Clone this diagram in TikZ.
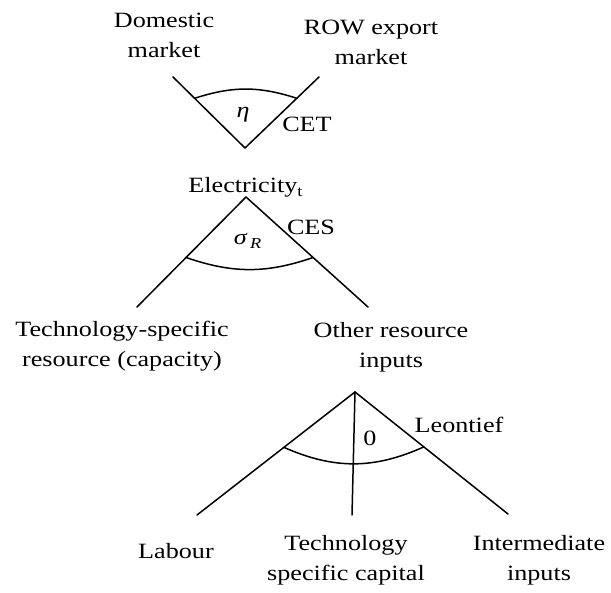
\documentclass[tikz,border=0pt]{standalone}
\usepackage{fontspec}
\setmainfont[FakeStretch=1.2]{Liberation Serif}
\usetikzlibrary{calc}
\begin{document}
\begin{tikzpicture}[x=0.5pt,y=-0.5pt,line cap=round,line join=round,
	font=\fontsize{10.9}{15}\selectfont,
	lab/.style={align=center,inner sep=0pt,anchor=base},
	branch/.style={line width=0.75pt}]
	\useasboundingbox (0,0) rectangle (611,593);
	\path
	(245,148) coordinate (elec)
	(173,77) coordinate (dom)
	(319,77) coordinate (row)
	(246,197) coordinate (res)
	(137,307) coordinate (tres)
	(368,307) coordinate (ores)
	(355,392) coordinate (oin)
	(197,515) coordinate (lab)
	(352,515) coordinate (kap)
	(508,514) coordinate (int);
	% CET nest
	\draw[branch] (dom)--(elec)--(row);
	\draw[branch] ($(elec)!0.7!(dom)$) to[bend left=18] ($(elec)!0.7!(row)$);
	% CES nest
	\draw[branch] (tres)--(res)--(ores);
	\draw[branch] ($(res)!0.55!(tres)$) to[bend right=19] ($(res)!0.55!(ores)$);
	% Leontief nest
	\foreach \i in {lab,kap,int}{
		\draw[branch] (oin)--(\i);
	}
	\draw[branch] ($(oin)!0.45!(lab)$) to[bend right=24] ($(oin)!0.45!(int)$);
	% labels (base = last line)
	\node[lab] (domestic) at (164,58) {Domestic\\market};
	\node[lab] (export) at (371,65) {ROW export\\market};
	\node[lab] (eta) at (243,118) {\textit{η}};
	\node[lab] (cet) at (307,132) {CET};
	\node[lab] (electricity) at (246,193) {Electricity\textsubscript{t}};
	\node[lab] (sigma) at (248,245) {\textit{σ}\textsubscript{\,\textit{R}}};
	\node[lab] (ces) at (311,235) {CES};
	\node[lab] (techres) at (122,367) {Technology-specific\\resource (capacity)};
	\node[lab] (otherres) at (391,368) {Other resource\\inputs};
	\node[lab] (zero) at (370,445) {0};
	\node[lab] (leontief) at (459,433) {Leontief};
	\node[lab] (labour) at (176,558) {Labour};
	\node[lab] (techcap) at (346,580) {Technology\\specific capital};
	\node[lab] (interm) at (539,580) {Intermediate\\inputs};
\end{tikzpicture}
\end{document}
